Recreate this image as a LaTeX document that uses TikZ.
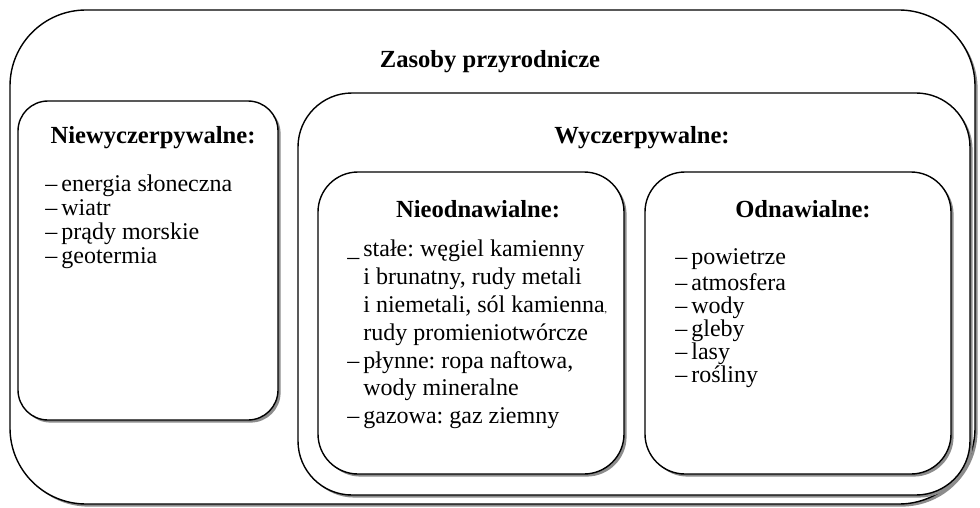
\documentclass[tikz,border=0pt]{standalone}
\usepackage{fontspec}
\setmainfont{Liberation Serif}
\usetikzlibrary{positioning,fit,shadows}
\frenchspacing

\begin{document}
\begin{tikzpicture}[x=0.5pt, y=-0.5pt,
  panel/.style={draw, line width=0.7pt, fill=white, inner sep=0pt,
    drop shadow={shadow xshift=1.3pt, shadow yshift=-1.3pt, fill=black!45, opacity=1}},
  heading/.style={font=\fontsize{12.3}{14}\selectfont\bfseries, anchor=base, inner sep=0pt},
  items/.style={font=\fontsize{12}{#1}\selectfont, anchor=north west, align=left, inner sep=0pt}
]
  \useasboundingbox (0,0) rectangle (980,508);

  % ramki
  \node[panel, rounded corners=38pt, fit={(10,10) (975,504)}] (zasoby) {};
  \node[panel, rounded corners=15pt, fit={(18,101) (278,420)}] (niewycz) {};
  \node[panel, rounded corners=27pt, fit={(298,93) (970,495)}] (wycz) {};
  \node[panel, rounded corners=20pt, fit={(318,172) (624,474)}] (nieodn) {};
  \node[panel, rounded corners=20pt, fit={(645,172) (951,474)}] (odn) {};

  % naglowki
  \node[heading] (tZasoby) at (490,68) {Zasoby przyrodnicze};
  \node[heading] (tNiewycz) at (153,143) {Niewyczerpywalne:};
  \node[heading] (tWycz) at (642,143) {Wyczerpywalne:};
  \node[heading] (tNieodn) at (478,217) {Nieodnawialne:};
  \node[heading] (tOdn) at (803,217) {Odnawialne:};

  % listy
  \node[items=12pt] (lNiewycz) at (45,174) {\strut--\,energia słoneczna\\--\,wiatr\\--\,prądy morskie\\--\,geotermia};
  \node[items=13.9pt] (lNieodn) at (347,237) {\strut\_\,stałe: węgiel kamienny\\
    \phantom{--\,}i brunatny, rudy metali\\
    \phantom{--\,}i niemetali, sól kamienna{\tiny,}\\
    \phantom{--\,}rudy promieniotwórcze\\
    --\,płynne: ropa naftowa,\\
    \phantom{--\,}wody mineralne\\
    --\,gazowa: gaz ziemny};
  \node[items=11.5pt] (lOdn) at (675,248) {\strut--\,powietrze\\--\,atmosfera\\--\,wody\\--\,gleby\\--\,lasy\\--\,rośliny};
\end{tikzpicture}
\end{document}
